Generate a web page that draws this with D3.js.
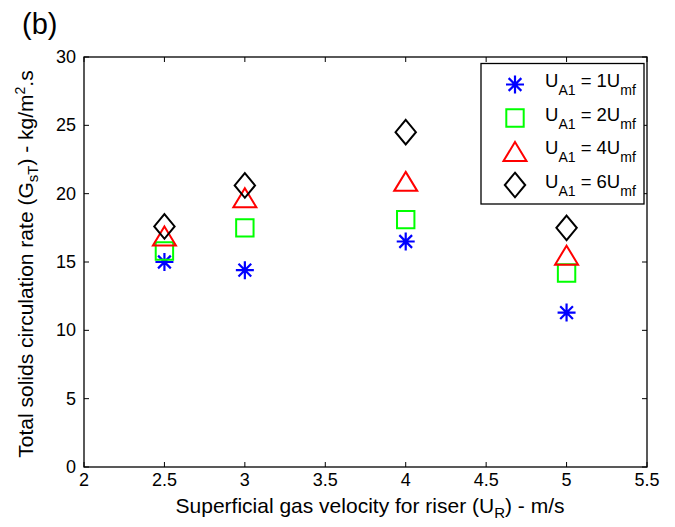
<!DOCTYPE html>
<html lang="en">
<head>
  <meta charset="UTF-8" />
  <title>Total solids circulation rate</title>
  <script src="https://d3js.org/d3.v7.min.js"></script>
  <style>
    body {
      margin: 0;
      background: #fff;
      font-family: 'Liberation Sans', Arial, sans-serif;
    }
    .tick-label { font-size: 18px; fill: #000; }
    .axis-title { font-size: 21px; fill: #000; }
    .legend-text { font-size: 18.5px; fill: #000; }
  </style>
</head>
<body>
<script>
  // riser velocity U_R (m/s)
  const velocities = [2.5, 3, 4, 5];
  const seriesLabels = ["1", "2", "4", "6"];
  const gst1 = [15.0, 14.4, 16.5, 11.3];
  const gst2 = [15.8, 17.5, 18.1, 14.2];
  const gst4 = [16.9, 19.7, 20.9, 15.5];
  const gst6 = [17.6, 20.6, 24.5, 17.5];
  const xTicks = [2, 2.5, 3, 3.5, 4, 4.5, 5, 5.5];
  const yTicks = [0, 5, 10, 15, 20, 25, 30];

  const width = 675, height = 527;
  const margin = { left: 84, right: 28, top: 57, bottom: 60 };

  const svg = d3.select("body").append("svg")
    .attr("width", width)
    .attr("height", height);

  const x = d3.scaleLinear().domain([2, 5.5]).range([margin.left, width - margin.right]);
  const y = d3.scaleLinear().domain([0, 30]).range([height - margin.bottom, margin.top]);

  const x0 = x.range()[0], x1 = x.range()[1];
  const y0 = y.range()[0], y1 = y.range()[1];
  const tickLen = 5;

  // ticks (inward, all four sides)
  const ticks = svg.append("g").attr("stroke", "#000").attr("stroke-width", 1);
  xTicks.forEach(t => {
    ticks.append("line").attr("x1", x(t)).attr("x2", x(t)).attr("y1", y0).attr("y2", y0 - tickLen);
    ticks.append("line").attr("x1", x(t)).attr("x2", x(t)).attr("y1", y1).attr("y2", y1 + tickLen);
    svg.append("text").attr("class", "tick-label")
      .attr("x", x(t)).attr("y", y0 + 18.5)
      .attr("text-anchor", "middle")
      .text(t);
  });
  yTicks.forEach(t => {
    ticks.append("line").attr("x1", x0).attr("x2", x0 + tickLen).attr("y1", y(t)).attr("y2", y(t));
    ticks.append("line").attr("x1", x1).attr("x2", x1 - tickLen).attr("y1", y(t)).attr("y2", y(t));
    svg.append("text").attr("class", "tick-label")
      .attr("x", x0 - 8).attr("y", y(t) + 6)
      .attr("text-anchor", "end")
      .text(t);
  });

  // frame
  svg.append("rect")
    .attr("x", x0).attr("y", y1)
    .attr("width", x1 - x0).attr("height", y0 - y1)
    .attr("fill", "none").attr("stroke", "#000").attr("stroke-width", 1.3);

  // marker shapes
  const shapes = {
    star: s => {
      const r = 9, d = r * Math.SQRT1_2;
      return `M0,${-r}V${r}M${-r},0H${r}M${-d},${-d}L${d},${d}M${-d},${d}L${d},${-d}`;
    },
    square: () => "M-8.7,-8.7H8.7V8.7H-8.7Z",
    triangle: () => "M0,-9.5L11.5,9.5H-11.5Z",
    diamond: () => "M0,-12.3L10.2,0L0,12.3L-10.2,0Z"
  };

  const series = [
    { values: gst1, shape: "star", color: "#0000ff", width: 2.2 },
    { values: gst2, shape: "square", color: "#00ff00", width: 2 },
    { values: gst4, shape: "triangle", color: "#ff0000", width: 2 },
    { values: gst6, shape: "diamond", color: "#000000", width: 2 }
  ];

  series.forEach(s => {
    svg.append("g").selectAll("path")
      .data(s.values)
      .enter()
      .append("path")
      .attr("transform", (d, i) => `translate(${x(velocities[i])},${y(d)})`)
      .attr("d", shapes[s.shape]())
      .attr("fill", "none")
      .attr("stroke", s.color)
      .attr("stroke-width", s.width);
  });

  // legend
  const legend = svg.append("g");
  legend.append("rect")
    .attr("x", 481).attr("y", 63.5)
    .attr("width", 163).attr("height", 140.5)
    .attr("fill", "#fff").attr("stroke", "#000").attr("stroke-width", 1.3);

  series.forEach((s, i) => {
    const ly = 84.5 + i * 33.5;
    legend.append("path")
      .attr("transform", `translate(515,${ly})`)
      .attr("d", shapes[s.shape]())
      .attr("fill", "none")
      .attr("stroke", s.color)
      .attr("stroke-width", s.width);
    const t = legend.append("text").attr("class", "legend-text")
      .attr("x", 545).attr("y", ly + 2.5);
    t.append("tspan").text("U");
    t.append("tspan").attr("font-size", "14px").attr("dy", 8).text("A1");
    t.append("tspan").attr("dy", -8).text(` = ${seriesLabels[i]}U`);
    t.append("tspan").attr("font-size", "14px").attr("dy", 8).text("mf");
  });

  // axis titles
  const xt = svg.append("text").attr("class", "axis-title")
    .attr("x", 370).attr("y", 513)
    .attr("text-anchor", "middle");
  xt.append("tspan").text("Superficial gas velocity for riser (U");
  xt.append("tspan").attr("font-size", "15px").attr("dy", 5).text("R");
  xt.append("tspan").attr("dy", -5).text(") - m/s");

  const yt = svg.append("text").attr("class", "axis-title")
    .attr("transform", `translate(33,264) rotate(-90)`)
    .attr("text-anchor", "middle");
  yt.append("tspan").text("Total solids circulation rate (G");
  yt.append("tspan").attr("font-size", "15px").attr("dy", 5).text("sT");
  yt.append("tspan").attr("dy", -5).text(") - kg/m");
  yt.append("tspan").attr("font-size", "14px").attr("dy", -8).text("2");
  yt.append("tspan").attr("dy", 8).text(".s");

  // panel tag
  svg.append("text")
    .attr("x", 22).attr("y", 34)
    .attr("font-size", "29px")
    .text("(b)");
</script>
</body>
</html>
